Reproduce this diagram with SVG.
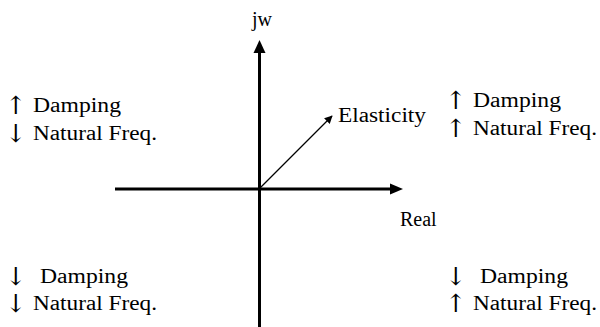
<svg xmlns="http://www.w3.org/2000/svg" width="600" height="327" viewBox="0 0 600 327">
<style>
text{font-family:"Liberation Serif","Times New Roman",serif;font-size:20px;fill:#000}
.ar{font-family:"DejaVu Serif","DejaVu Sans",serif;font-size:25px;fill:#000;text-anchor:middle}
.axis{stroke:#000;stroke-width:3;fill:none}
.thin{stroke:#000;stroke-width:1.2;fill:none}
</style>
<defs>
<marker id="ah" viewBox="0 0 10 10" refX="9" refY="5" markerWidth="8" markerHeight="8" markerUnits="userSpaceOnUse" orient="auto">
<path d="M0,0 L10,5 L0,10 z" fill="#000"/>
</marker>
</defs>
<rect width="600" height="327" fill="#fff"/>
<g id="connectors">
<line class="axis" x1="259.5" y1="327" x2="259.5" y2="51"/>
<polygon points="253.5,53 259.5,40 265.5,53" fill="#000"/>
<line class="axis" x1="115" y1="189" x2="391" y2="189"/>
<polygon points="390,183.5 403,189 390,194.5" fill="#000"/>
<line class="thin" x1="260" y1="188" x2="332" y2="116" marker-end="url(#ah)"/>
</g>
<g id="jw"><text x="252" y="26">jw</text></g>
<g id="real"><text x="400" y="226">Real</text></g>
<g id="elasticity"><text x="338" y="122" textLength="88" lengthAdjust="spacingAndGlyphs">Elasticity</text></g>
<g id="q2">
<text class="ar" x="16" y="114">↑</text><text x="33" y="112" textLength="88" lengthAdjust="spacingAndGlyphs">Damping</text>
<text class="ar" x="16" y="142">↓</text><text x="33" y="140" textLength="124" lengthAdjust="spacingAndGlyphs">Natural Freq.</text>
</g>
<g id="q1">
<text class="ar" x="456" y="109">↑</text><text x="473" y="107" textLength="88" lengthAdjust="spacingAndGlyphs">Damping</text>
<text class="ar" x="456" y="137">↑</text><text x="473" y="135" textLength="124" lengthAdjust="spacingAndGlyphs">Natural Freq.</text>
</g>
<g id="q3">
<text class="ar" x="16" y="285">↓</text><text x="40" y="283" textLength="88" lengthAdjust="spacingAndGlyphs">Damping</text>
<text class="ar" x="16" y="312">↓</text><text x="33" y="310" textLength="124" lengthAdjust="spacingAndGlyphs">Natural Freq.</text>
</g>
<g id="q4">
<text class="ar" x="456" y="285">↓</text><text x="480" y="283" textLength="88" lengthAdjust="spacingAndGlyphs">Damping</text>
<text class="ar" x="456" y="312">↑</text><text x="473" y="310" textLength="124" lengthAdjust="spacingAndGlyphs">Natural Freq.</text>
</g>
</svg>
